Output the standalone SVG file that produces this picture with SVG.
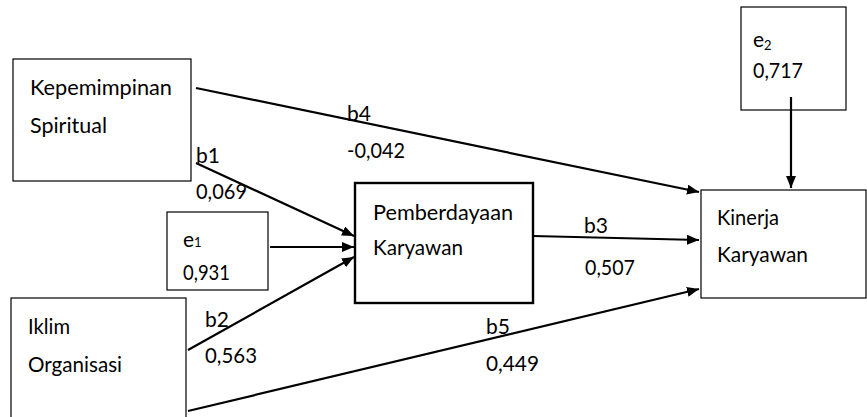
<svg xmlns="http://www.w3.org/2000/svg" width="867" height="417" viewBox="0 0 867 417">
  <style>
    text { font-family: Lato, "Open Sans", "Liberation Sans", sans-serif; font-size: 21px; fill: #000; }
    .box { fill: #fff; stroke: #000; stroke-width: 1.2; }
    .box-bold { fill: #fff; stroke: #000; stroke-width: 2.4; }
    .edge { fill: none; stroke: #000; stroke-width: 2.2; marker-end: url(#arrow); }
    .sub { font-size: 13px; }
  </style>
  <defs>
    <marker id="arrow" viewBox="0 0 12 10" refX="12" refY="5" markerWidth="12" markerHeight="10" markerUnits="userSpaceOnUse" orient="auto">
      <path d="M0,0 L12,5 L0,10 Z" fill="#000"/>
    </marker>
  </defs>
  <rect width="867" height="417" fill="#fff"/>

  <g id="node-kepemimpinan">
    <rect class="box" x="13" y="59" width="178" height="122"/>
    <text x="30" y="95" textLength="142" lengthAdjust="spacingAndGlyphs">Kepemimpinan</text>
    <text x="30" y="133" textLength="77" lengthAdjust="spacingAndGlyphs">Spiritual</text>
  </g>

  <g id="node-iklim">
    <rect class="box" x="11" y="298" width="175" height="130"/>
    <text x="28" y="334" textLength="42" lengthAdjust="spacingAndGlyphs">Iklim</text>
    <text x="28" y="372" textLength="94" lengthAdjust="spacingAndGlyphs">Organisasi</text>
  </g>

  <g id="node-e1">
    <rect class="box" x="167" y="212" width="101" height="78"/>
    <text x="183" y="247">e<tspan class="sub">1</tspan></text>
    <text x="183" y="280" textLength="47" lengthAdjust="spacingAndGlyphs">0,931</text>
  </g>

  <g id="node-pemberdayaan">
    <rect class="box-bold" x="355" y="183" width="178" height="120"/>
    <text x="373" y="220" textLength="140" lengthAdjust="spacingAndGlyphs">Pemberdayaan</text>
    <text x="373" y="255" textLength="90" lengthAdjust="spacingAndGlyphs">Karyawan</text>
  </g>

  <g id="node-e2">
    <rect class="box" x="741" y="7" width="105" height="103"/>
    <text x="753" y="47">e<tspan class="sub" dy="3">2</tspan></text>
    <text x="753" y="78" textLength="50" lengthAdjust="spacingAndGlyphs">0,717</text>
  </g>

  <g id="node-kinerja">
    <rect class="box" x="701" y="190" width="165" height="108"/>
    <text x="717" y="225" textLength="62" lengthAdjust="spacingAndGlyphs">Kinerja</text>
    <text x="717" y="262" textLength="91" lengthAdjust="spacingAndGlyphs">Karyawan</text>
  </g>

  <g id="connectors">
    <line class="edge" x1="196" y1="88" x2="699" y2="192"/>
    <line class="edge" x1="196" y1="163" x2="354" y2="236"/>
    <line class="edge" x1="270" y1="247" x2="354" y2="247"/>
    <line class="edge" x1="188" y1="350" x2="354" y2="257"/>
    <line class="edge" x1="533" y1="236" x2="699" y2="240"/>
    <line class="edge" x1="188" y1="411" x2="699" y2="289"/>
    <line class="edge" x1="791" y1="97" x2="791" y2="188"/>
  </g>

  <g id="labels">
    <text x="347" y="121">b4</text>
    <text x="347" y="158" textLength="58" lengthAdjust="spacingAndGlyphs">-0,042</text>
    <text x="196" y="163">b1</text>
    <text x="196" y="199" textLength="51" lengthAdjust="spacingAndGlyphs">0,069</text>
    <text x="205" y="327">b2</text>
    <text x="205" y="363" textLength="52" lengthAdjust="spacingAndGlyphs">0,563</text>
    <text x="584" y="233">b3</text>
    <text x="585" y="275" textLength="50" lengthAdjust="spacingAndGlyphs">0,507</text>
    <text x="486" y="334">b5</text>
    <text x="486" y="371" textLength="53" lengthAdjust="spacingAndGlyphs">0,449</text>
  </g>
</svg>
